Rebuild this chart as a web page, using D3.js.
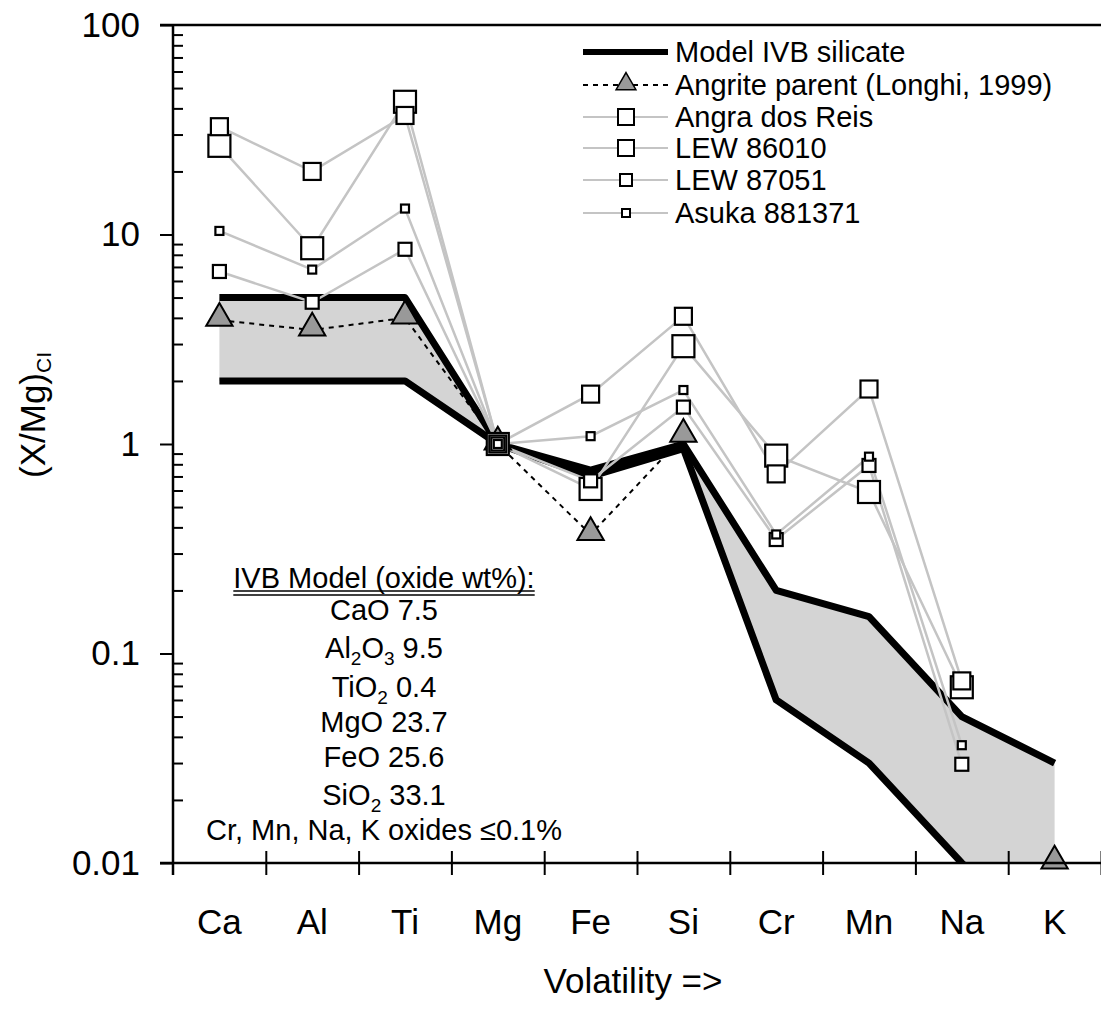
<!DOCTYPE html>
<html>
<head>
<meta charset="utf-8">
<script src="https://cdn.jsdelivr.net/npm/d3@7"></script>
<style>
  body { margin: 0; background: #fff; }
  text { font-family: Arial, "Liberation Sans", sans-serif; fill: #000; }
</style>
</head>
<body>
<div id="chart"></div>
<script>
// element order (by volatility)
const elements = ["Ca", "Al", "Ti", "Mg", "Fe", "Si", "Cr", "Mn", "Na", "K"];

// model IVB silicate envelope (upper / lower bound)
const modelUpper = [5, 5, 5, 1, 0.75, 1.0, 0.2, 0.15, 0.05, 0.03];
const modelLower = [2, 2, 2, 1, 0.7, 0.95, 0.06, 0.03, 0.01, 0.004];

// angrite parent melt (Longhi, 1999)
const angrite = [3.9, 3.5, 4.0, 1, 0.37, 1.09, null, null, null, 0.01];

// angrites
const angra = [26.5, 8.6, 43, 1, 0.61, 2.93, 0.88, 0.59, 0.069, null];
const lew86010 = [32.7, 20, 37, 1, 1.73, 4.07, 0.72, 1.83, 0.074, null];
const lew87051 = [6.66, 4.75, 8.5, 1, 0.667, 1.5, 0.35, 0.79, 0.0296, null];
const asuka = [10.4, 6.8, 13.3, 1, 1.09, 1.81, 0.37, 0.87, 0.0365, null];

const meteoriteNames = ["Angra dos Reis", "LEW 86010", "LEW 87051", "Asuka 881371"];
const meteoriteData = [angra, lew86010, lew87051, asuka];
const markerSizes = [22, 17, 13, 8];
const legendMarkerSizes = [16, 16, 12, 8];

// axis ticks
const yTicks = [0.01, 0.1, 1, 10, 100];
const yTickLabels = ["0.01", "0.1", "1", "10", "100"];

// text box
const boxTitle = "IVB Model (oxide wt%):";
const boxLines = [
    [["CaO 7.5", ""]],
    [["Al", ""], ["2", "sub"], ["O", ""], ["3", "sub"], [" 9.5", ""]],
    [["TiO", ""], ["2", "sub"], [" 0.4", ""]],
    [["MgO 23.7", ""]],
    [["FeO 25.6", ""]],
    [["SiO", ""], ["2", "sub"], [" 33.1", ""]],
    [["Cr, Mn, Na, K oxides \u22640.1%", ""]]
];

const width = 1101, height = 1010;
const plot = { left: 173, right: 1101, top: 25, bottom: 863 };

const svg = d3.select("#chart")
    .append("svg")
    .attr("width", width)
    .attr("height", height);

// scales
const x = d3.scaleBand().domain(elements).range([plot.left, plot.right]);
const xEdge = d3.scaleLinear().domain([0, elements.length]).range([plot.left, plot.right]);
const y = d3.scaleLog().domain([0.01, 100]).range([plot.bottom, plot.top]);
const cx = i => x(elements[i]) + x.bandwidth() / 2;

svg.append("clipPath").attr("id", "clip")
    .append("rect")
    .attr("x", plot.left).attr("y", plot.top)
    .attr("width", plot.right - plot.left)
    .attr("height", plot.bottom - plot.top);

// shaded envelope
const area = d3.area()
    .x((d, i) => cx(i))
    .y0((d, i) => y(modelLower[i]))
    .y1(d => y(d));

svg.append("path")
    .datum(modelUpper)
    .attr("clip-path", "url(#clip)")
    .attr("d", area)
    .attr("fill", "#d4d4d4");

const line = d3.line()
    .defined(d => d != null)
    .x((d, i) => cx(i))
    .y(d => y(d));

// envelope bounds
[modelUpper, modelLower].forEach(arr => {
    svg.append("path")
        .datum(arr)
        .attr("clip-path", "url(#clip)")
        .attr("d", line)
        .attr("fill", "none")
        .attr("stroke", "#000")
        .attr("stroke-width", 7)
        .attr("stroke-linejoin", "round");
});

// meteorite lines
meteoriteData.forEach(arr => {
    svg.append("path")
        .datum(arr)
        .attr("d", line)
        .attr("fill", "none")
        .attr("stroke", "#c4c4c4")
        .attr("stroke-width", 2.5);
});

// angrite parent dashed line
svg.append("path")
    .datum(angrite)
    .attr("d", line)
    .attr("fill", "none")
    .attr("stroke", "#000")
    .attr("stroke-width", 2)
    .attr("stroke-dasharray", "5,5");

const triangle = d3.symbol().type(d3.symbolTriangle).size(300);

svg.append("g")
    .selectAll("path")
    .data(angrite.map((v, i) => ({ v, i })).filter(d => d.v != null))
    .enter()
    .append("path")
    .attr("d", triangle)
    .attr("transform", d => `translate(${cx(d.i)}, ${y(d.v) - 2})`)
    .attr("fill", "#999")
    .attr("stroke", "#000")
    .attr("stroke-width", 2);

// meteorite markers
meteoriteData.forEach((arr, k) => {
    const s = markerSizes[k];
    svg.append("g")
        .selectAll("rect")
        .data(arr.map((v, i) => ({ v, i })).filter(d => d.v != null))
        .enter()
        .append("rect")
        .attr("x", d => cx(d.i) - s / 2)
        .attr("y", d => y(d.v) - s / 2)
        .attr("width", s)
        .attr("height", s)
        .attr("fill", "#fff")
        .attr("stroke", "#000")
        .attr("stroke-width", 2.2);
});

// y axis
const yAxis = d3.axisLeft(y)
    .tickValues(yTicks)
    .tickFormat((d, i) => yTickLabels[i])
    .tickSize(13)
    .tickSizeOuter(0)
    .tickPadding(20);

const gy = svg.append("g")
    .attr("transform", `translate(${plot.left}, 0)`)
    .call(yAxis);
gy.select(".domain").remove();
gy.selectAll("line").attr("stroke", "#000").attr("stroke-width", 2);
gy.selectAll("text").style("font-size", "35px");

// minor ticks
const minor = [];
for (let e = -2; e < 2; e++) {
    for (let m = 2; m <= 9; m++) minor.push(m * Math.pow(10, e));
}
const gm = svg.append("g")
    .attr("transform", `translate(${plot.left}, 0)`)
    .call(d3.axisRight(y).tickValues(minor).tickFormat("").tickSize(10).tickSizeOuter(0));
gm.select(".domain").remove();
gm.selectAll("line").attr("stroke", "#000").attr("stroke-width", 2);

svg.append("line")
    .attr("x1", plot.left).attr("x2", plot.left)
    .attr("y1", plot.top).attr("y2", plot.bottom + 12)
    .attr("stroke", "#000").attr("stroke-width", 2.5);

// top frame
svg.append("line")
    .attr("x1", plot.left - 13).attr("x2", plot.right)
    .attr("y1", plot.top).attr("y2", plot.top)
    .attr("stroke", "#000").attr("stroke-width", 2.5);

// x axis
const gx = svg.append("g")
    .attr("transform", `translate(0, ${plot.bottom})`)
    .call(d3.axisBottom(xEdge).tickValues(d3.range(1, elements.length + 1)).tickFormat("").tickSize(12).tickSizeOuter(0));
gx.select(".domain").remove();
gx.selectAll("line").attr("y1", -12).attr("y2", 12).attr("stroke", "#000").attr("stroke-width", 2);

svg.append("line")
    .attr("x1", plot.left - 13).attr("x2", plot.right)
    .attr("y1", plot.bottom).attr("y2", plot.bottom)
    .attr("stroke", "#000").attr("stroke-width", 2.5);

const gxl = svg.append("g")
    .attr("transform", `translate(0, ${plot.bottom})`)
    .call(d3.axisBottom(x).tickSize(0).tickPadding(46));
gxl.select(".domain").remove();
gxl.selectAll("text").style("font-size", "35px");

// axis titles
svg.append("text")
    .attr("x", 633)
    .attr("y", 980)
    .attr("text-anchor", "middle")
    .attr("dominant-baseline", "central")
    .style("font-size", "35px")
    .text("Volatility =>");

const yt = svg.append("text")
    .attr("transform", "translate(45, 415) rotate(-90)")
    .attr("text-anchor", "middle")
    .style("font-size", "35px");
yt.append("tspan").text("(X/Mg)");
yt.append("tspan").attr("dy", 6).style("font-size", "21px").text("CI");

// legend
const legendX = 583, legendTextX = 675, legendRows = [52, 85, 117, 148, 180, 213];
const legend = svg.append("g");

legend.append("line")
    .attr("x1", legendX).attr("x2", 668)
    .attr("y1", legendRows[0]).attr("y2", legendRows[0])
    .attr("stroke", "#000").attr("stroke-width", 6);

legend.append("line")
    .attr("x1", legendX).attr("x2", 668)
    .attr("y1", legendRows[1]).attr("y2", legendRows[1])
    .attr("stroke", "#000").attr("stroke-width", 2).attr("stroke-dasharray", "5,5");
legend.append("path")
    .attr("d", d3.symbol().type(d3.symbolTriangle).size(170))
    .attr("transform", `translate(626, ${legendRows[1] - 1})`)
    .attr("fill", "#999").attr("stroke", "#000").attr("stroke-width", 1.5);

meteoriteNames.forEach((name, k) => {
    const ry = legendRows[k + 2], s = legendMarkerSizes[k];
    legend.append("line")
        .attr("x1", legendX).attr("x2", 668)
        .attr("y1", ry).attr("y2", ry)
        .attr("stroke", "#c4c4c4").attr("stroke-width", 2);
    legend.append("rect")
        .attr("x", 626 - s / 2).attr("y", ry - s / 2)
        .attr("width", s).attr("height", s)
        .attr("fill", "#fff").attr("stroke", "#000").attr("stroke-width", 2);
});

const legendLabels = ["Model IVB silicate", "Angrite parent (Longhi, 1999)"].concat(meteoriteNames);
legend.selectAll("text.lbl")
    .data(legendLabels)
    .enter()
    .append("text")
    .attr("class", "lbl")
    .attr("x", legendTextX)
    .attr("y", (d, i) => legendRows[i])
    .attr("dominant-baseline", "central")
    .style("font-size", "29px")
    .text(d => d);

// composition text box
const boxX = 384;
const title = svg.append("text")
    .attr("x", boxX)
    .attr("y", 578)
    .attr("text-anchor", "middle")
    .attr("dominant-baseline", "central")
    .style("font-size", "29px")
    .text(boxTitle);
const tw = title.node().getComputedTextLength();
[591, 595].forEach(uy => {
    svg.append("line")
        .attr("x1", boxX - tw / 2).attr("x2", boxX + tw / 2)
        .attr("y1", uy).attr("y2", uy)
        .attr("stroke", "#000").attr("stroke-width", 1.3);
});

const boxRows = [610, 648, 687, 722, 757, 795, 830];
boxLines.forEach((parts, r) => {
    const t = svg.append("text")
        .attr("x", boxX)
        .attr("y", boxRows[r] + 10)
        .attr("text-anchor", "middle")
        .style("font-size", "29px");
    let shifted = false;
    parts.forEach(([str, kind]) => {
        const ts = t.append("tspan").text(str);
        if (kind === "sub") {
            ts.style("font-size", "19px").attr("dy", shifted ? 0 : 7);
            shifted = true;
        } else if (shifted) {
            ts.attr("dy", -7);
            shifted = false;
        }
    });
});
</script>
</body>
</html>
